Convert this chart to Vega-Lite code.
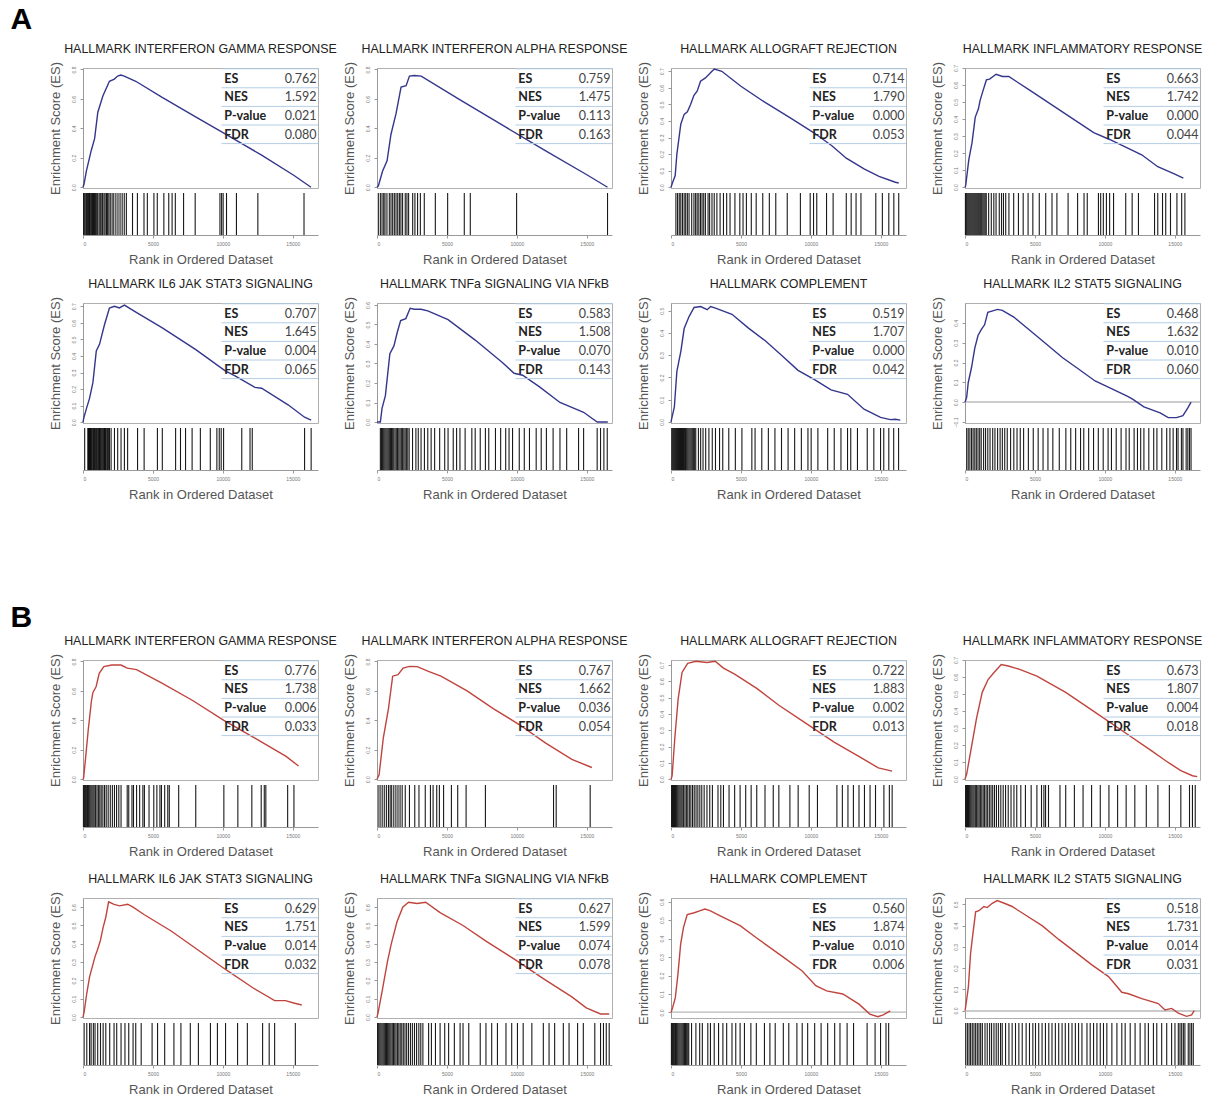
{
"$schema":"https://vega.github.io/schema/vega-lite/v6.json",
"padding":{"left":10,"top":4,"right":2,"bottom":2},
"spacing":101,
"datasets":{
"stats":[
{"p":"A1","k":"ES","v":"0.762","r":1},{"p":"A1","k":"NES","v":"1.592","r":2},{"p":"A1","k":"P-value","v":"0.021","r":3},{"p":"A1","k":"FDR","v":"0.080","r":4},
{"p":"A2","k":"ES","v":"0.759","r":1},{"p":"A2","k":"NES","v":"1.475","r":2},{"p":"A2","k":"P-value","v":"0.113","r":3},{"p":"A2","k":"FDR","v":"0.163","r":4},
{"p":"A3","k":"ES","v":"0.714","r":1},{"p":"A3","k":"NES","v":"1.790","r":2},{"p":"A3","k":"P-value","v":"0.000","r":3},{"p":"A3","k":"FDR","v":"0.053","r":4},
{"p":"A4","k":"ES","v":"0.663","r":1},{"p":"A4","k":"NES","v":"1.742","r":2},{"p":"A4","k":"P-value","v":"0.000","r":3},{"p":"A4","k":"FDR","v":"0.044","r":4},
{"p":"A5","k":"ES","v":"0.707","r":1},{"p":"A5","k":"NES","v":"1.645","r":2},{"p":"A5","k":"P-value","v":"0.004","r":3},{"p":"A5","k":"FDR","v":"0.065","r":4},
{"p":"A6","k":"ES","v":"0.583","r":1},{"p":"A6","k":"NES","v":"1.508","r":2},{"p":"A6","k":"P-value","v":"0.070","r":3},{"p":"A6","k":"FDR","v":"0.143","r":4},
{"p":"A7","k":"ES","v":"0.519","r":1},{"p":"A7","k":"NES","v":"1.707","r":2},{"p":"A7","k":"P-value","v":"0.000","r":3},{"p":"A7","k":"FDR","v":"0.042","r":4},
{"p":"A8","k":"ES","v":"0.468","r":1},{"p":"A8","k":"NES","v":"1.632","r":2},{"p":"A8","k":"P-value","v":"0.010","r":3},{"p":"A8","k":"FDR","v":"0.060","r":4},
{"p":"B1","k":"ES","v":"0.776","r":1},{"p":"B1","k":"NES","v":"1.738","r":2},{"p":"B1","k":"P-value","v":"0.006","r":3},{"p":"B1","k":"FDR","v":"0.033","r":4},
{"p":"B2","k":"ES","v":"0.767","r":1},{"p":"B2","k":"NES","v":"1.662","r":2},{"p":"B2","k":"P-value","v":"0.036","r":3},{"p":"B2","k":"FDR","v":"0.054","r":4},
{"p":"B3","k":"ES","v":"0.722","r":1},{"p":"B3","k":"NES","v":"1.883","r":2},{"p":"B3","k":"P-value","v":"0.002","r":3},{"p":"B3","k":"FDR","v":"0.013","r":4},
{"p":"B4","k":"ES","v":"0.673","r":1},{"p":"B4","k":"NES","v":"1.807","r":2},{"p":"B4","k":"P-value","v":"0.004","r":3},{"p":"B4","k":"FDR","v":"0.018","r":4},
{"p":"B5","k":"ES","v":"0.629","r":1},{"p":"B5","k":"NES","v":"1.751","r":2},{"p":"B5","k":"P-value","v":"0.014","r":3},{"p":"B5","k":"FDR","v":"0.032","r":4},
{"p":"B6","k":"ES","v":"0.627","r":1},{"p":"B6","k":"NES","v":"1.599","r":2},{"p":"B6","k":"P-value","v":"0.074","r":3},{"p":"B6","k":"FDR","v":"0.078","r":4},
{"p":"B7","k":"ES","v":"0.560","r":1},{"p":"B7","k":"NES","v":"1.874","r":2},{"p":"B7","k":"P-value","v":"0.010","r":3},{"p":"B7","k":"FDR","v":"0.006","r":4},
{"p":"B8","k":"ES","v":"0.518","r":1},{"p":"B8","k":"NES","v":"1.731","r":2},{"p":"B8","k":"P-value","v":"0.014","r":3},{"p":"B8","k":"FDR","v":"0.031","r":4}
],
"cA1":[{"x":0,"y":0},{"x":70,"y":0.02},{"x":240,"y":0.11},{"x":590,"y":0.25},{"x":830,"y":0.33},{"x":1060,"y":0.51},{"x":1420,"y":0.62},{"x":1890,"y":0.72},{"x":2240,"y":0.735},{"x":2480,"y":0.755},{"x":2700,"y":0.762},{"x":2950,"y":0.755},{"x":3770,"y":0.72},{"x":5660,"y":0.61},{"x":8020,"y":0.48},{"x":10380,"y":0.35},{"x":12740,"y":0.22},{"x":15090,"y":0.08},{"x":16300,"y":0.0}],
"cA2":[{"x":0,"y":0},{"x":100,"y":0.01},{"x":400,"y":0.11},{"x":720,"y":0.18},{"x":1000,"y":0.36},{"x":1360,"y":0.5},{"x":1720,"y":0.68},{"x":2080,"y":0.69},{"x":2320,"y":0.755},{"x":2680,"y":0.759},{"x":3160,"y":0.755},{"x":6000,"y":0.59},{"x":9000,"y":0.42},{"x":12000,"y":0.25},{"x":15000,"y":0.085},{"x":16480,"y":0.0}],
"cA3":[{"x":0,"y":0},{"x":120,"y":0.03},{"x":300,"y":0.07},{"x":420,"y":0.2},{"x":700,"y":0.38},{"x":940,"y":0.44},{"x":1170,"y":0.455},{"x":1400,"y":0.5},{"x":1640,"y":0.555},{"x":1870,"y":0.58},{"x":2110,"y":0.64},{"x":2460,"y":0.66},{"x":2930,"y":0.7},{"x":3100,"y":0.714},{"x":3630,"y":0.7},{"x":5000,"y":0.61},{"x":6670,"y":0.515},{"x":8500,"y":0.42},{"x":10190,"y":0.33},{"x":11500,"y":0.25},{"x":12530,"y":0.175},{"x":13800,"y":0.11},{"x":14870,"y":0.065},{"x":16040,"y":0.03},{"x":16280,"y":0.025}],
"cA4":[{"x":0,"y":0},{"x":50,"y":0.01},{"x":270,"y":0.16},{"x":500,"y":0.26},{"x":730,"y":0.41},{"x":960,"y":0.46},{"x":1080,"y":0.51},{"x":1300,"y":0.57},{"x":1530,"y":0.63},{"x":1760,"y":0.635},{"x":2220,"y":0.663},{"x":2680,"y":0.65},{"x":3130,"y":0.65},{"x":4620,"y":0.57},{"x":6910,"y":0.445},{"x":9200,"y":0.32},{"x":10340,"y":0.28},{"x":12630,"y":0.19},{"x":13780,"y":0.12},{"x":14920,"y":0.08},{"x":15610,"y":0.053}],
"cA5":[{"x":0,"y":0},{"x":70,"y":0.03},{"x":240,"y":0.08},{"x":470,"y":0.145},{"x":710,"y":0.24},{"x":950,"y":0.43},{"x":1180,"y":0.47},{"x":1540,"y":0.59},{"x":1890,"y":0.69},{"x":2250,"y":0.7},{"x":2600,"y":0.69},{"x":2960,"y":0.707},{"x":3780,"y":0.665},{"x":5670,"y":0.57},{"x":8040,"y":0.44},{"x":10170,"y":0.31},{"x":10870,"y":0.28},{"x":12290,"y":0.21},{"x":12770,"y":0.205},{"x":14660,"y":0.105},{"x":15840,"y":0.03},{"x":16310,"y":0.013}],
"cA6":[{"x":0,"y":0},{"x":240,"y":0.0},{"x":360,"y":0.07},{"x":600,"y":0.135},{"x":920,"y":0.35},{"x":1210,"y":0.39},{"x":1450,"y":0.46},{"x":1690,"y":0.52},{"x":2060,"y":0.53},{"x":2370,"y":0.583},{"x":2660,"y":0.578},{"x":3150,"y":0.578},{"x":3630,"y":0.57},{"x":5080,"y":0.525},{"x":7020,"y":0.42},{"x":8960,"y":0.305},{"x":9800,"y":0.25},{"x":10410,"y":0.24},{"x":11620,"y":0.18},{"x":13080,"y":0.1},{"x":14770,"y":0.05},{"x":15740,"y":0.0},{"x":16500,"y":0.0}],
"cA7":[{"x":0,"y":0},{"x":70,"y":0.02},{"x":240,"y":0.067},{"x":420,"y":0.227},{"x":710,"y":0.32},{"x":940,"y":0.42},{"x":1300,"y":0.475},{"x":1650,"y":0.515},{"x":2120,"y":0.519},{"x":2590,"y":0.505},{"x":2830,"y":0.519},{"x":3180,"y":0.512},{"x":4360,"y":0.484},{"x":5540,"y":0.422},{"x":6720,"y":0.366},{"x":7900,"y":0.3},{"x":9080,"y":0.232},{"x":10260,"y":0.19},{"x":11440,"y":0.144},{"x":12620,"y":0.124},{"x":13800,"y":0.057},{"x":14980,"y":0.02},{"x":15680,"y":0.01},{"x":16040,"y":0.012},{"x":16390,"y":0.008}],
"cA8":[{"x":0,"y":0},{"x":120,"y":0.024},{"x":230,"y":0.098},{"x":470,"y":0.176},{"x":700,"y":0.273},{"x":930,"y":0.336},{"x":1160,"y":0.366},{"x":1400,"y":0.39},{"x":1630,"y":0.453},{"x":1860,"y":0.458},{"x":2330,"y":0.468},{"x":2670,"y":0.463},{"x":3490,"y":0.429},{"x":4650,"y":0.361},{"x":5810,"y":0.293},{"x":6980,"y":0.224},{"x":8140,"y":0.166},{"x":9300,"y":0.107},{"x":10470,"y":0.068},{"x":11630,"y":0.029},{"x":11980,"y":0.015},{"x":12790,"y":-0.024},{"x":13950,"y":-0.054},{"x":14530,"y":-0.078},{"x":15120,"y":-0.078},{"x":15580,"y":-0.068},{"x":15930,"y":-0.029},{"x":16160,"y":0.0}],
"cB1":[{"x":0,"y":0},{"x":45,"y":0.01},{"x":160,"y":0.12},{"x":380,"y":0.34},{"x":600,"y":0.53},{"x":710,"y":0.59},{"x":940,"y":0.63},{"x":1160,"y":0.72},{"x":1490,"y":0.765},{"x":2050,"y":0.776},{"x":2720,"y":0.776},{"x":3160,"y":0.755},{"x":3830,"y":0.745},{"x":5610,"y":0.655},{"x":7840,"y":0.535},{"x":10070,"y":0.4},{"x":12290,"y":0.28},{"x":14520,"y":0.155},{"x":15410,"y":0.09}],
"cB2":[{"x":0,"y":0},{"x":150,"y":0.03},{"x":450,"y":0.28},{"x":820,"y":0.48},{"x":1120,"y":0.7},{"x":1500,"y":0.71},{"x":1870,"y":0.755},{"x":2320,"y":0.767},{"x":2880,"y":0.765},{"x":3630,"y":0.735},{"x":4570,"y":0.7},{"x":6440,"y":0.6},{"x":8310,"y":0.48},{"x":10190,"y":0.37},{"x":12060,"y":0.245},{"x":13930,"y":0.135},{"x":15360,"y":0.08}],
"cB3":[{"x":0,"y":0},{"x":80,"y":0.02},{"x":280,"y":0.26},{"x":510,"y":0.49},{"x":790,"y":0.654},{"x":1190,"y":0.71},{"x":1780,"y":0.722},{"x":2570,"y":0.715},{"x":3160,"y":0.722},{"x":3750,"y":0.68},{"x":4550,"y":0.644},{"x":6130,"y":0.556},{"x":7710,"y":0.453},{"x":9680,"y":0.34},{"x":11660,"y":0.227},{"x":13640,"y":0.129},{"x":14820,"y":0.069},{"x":15810,"y":0.049}],
"cB4":[{"x":0,"y":0},{"x":120,"y":0.03},{"x":410,"y":0.165},{"x":820,"y":0.355},{"x":1230,"y":0.51},{"x":1650,"y":0.585},{"x":2060,"y":0.625},{"x":2590,"y":0.673},{"x":3090,"y":0.665},{"x":3910,"y":0.645},{"x":5140,"y":0.605},{"x":7200,"y":0.51},{"x":9260,"y":0.395},{"x":11320,"y":0.28},{"x":13370,"y":0.165},{"x":14400,"y":0.105},{"x":15430,"y":0.05},{"x":16260,"y":0.02},{"x":16600,"y":0.015}],
"cB5":[{"x":0,"y":0},{"x":80,"y":0.027},{"x":270,"y":0.13},{"x":470,"y":0.22},{"x":860,"y":0.33},{"x":1050,"y":0.37},{"x":1250,"y":0.42},{"x":1440,"y":0.49},{"x":1630,"y":0.545},{"x":1830,"y":0.629},{"x":2220,"y":0.615},{"x":2610,"y":0.607},{"x":3190,"y":0.616},{"x":3580,"y":0.6},{"x":4360,"y":0.56},{"x":6300,"y":0.47},{"x":8250,"y":0.365},{"x":10190,"y":0.26},{"x":12140,"y":0.16},{"x":13700,"y":0.09},{"x":14470,"y":0.09},{"x":15060,"y":0.077},{"x":15640,"y":0.066}],
"cB6":[{"x":0,"y":0},{"x":80,"y":0.025},{"x":410,"y":0.16},{"x":740,"y":0.3},{"x":1020,"y":0.4},{"x":1430,"y":0.52},{"x":1840,"y":0.6},{"x":2250,"y":0.627},{"x":2870,"y":0.62},{"x":3480,"y":0.627},{"x":4510,"y":0.57},{"x":6150,"y":0.5},{"x":7790,"y":0.415},{"x":9840,"y":0.315},{"x":11890,"y":0.21},{"x":13930,"y":0.11},{"x":14960,"y":0.05},{"x":15980,"y":0.017},{"x":16600,"y":0.017}],
"cB7":[{"x":0,"y":0},{"x":120,"y":0.027},{"x":310,"y":0.08},{"x":500,"y":0.21},{"x":690,"y":0.37},{"x":890,"y":0.46},{"x":1160,"y":0.53},{"x":1660,"y":0.54},{"x":2050,"y":0.55},{"x":2430,"y":0.56},{"x":2820,"y":0.55},{"x":3590,"y":0.52},{"x":4940,"y":0.47},{"x":6100,"y":0.405},{"x":8030,"y":0.3},{"x":9380,"y":0.225},{"x":10350,"y":0.145},{"x":11120,"y":0.117},{"x":12280,"y":0.1},{"x":13440,"y":0.045},{"x":14210,"y":-0.009},{"x":14790,"y":-0.023},{"x":15170,"y":-0.013},{"x":15680,"y":0.009}],
"cB8":[{"x":0,"y":0},{"x":50,"y":0.018},{"x":240,"y":0.11},{"x":400,"y":0.27},{"x":570,"y":0.365},{"x":760,"y":0.465},{"x":1000,"y":0.47},{"x":1350,"y":0.49},{"x":1590,"y":0.485},{"x":1950,"y":0.505},{"x":2300,"y":0.518},{"x":2900,"y":0.503},{"x":3370,"y":0.49},{"x":4320,"y":0.45},{"x":5510,"y":0.4},{"x":6700,"y":0.335},{"x":7890,"y":0.275},{"x":9070,"y":0.215},{"x":10260,"y":0.16},{"x":11210,"y":0.086},{"x":11690,"y":0.079},{"x":12640,"y":0.056},{"x":13820,"y":0.033},{"x":14300,"y":0.003},{"x":14770,"y":0.01},{"x":15250,"y":-0.012},{"x":15840,"y":-0.027},{"x":16200,"y":-0.02},{"x":16390,"y":0.0}],
"hA1":[{"x":40},{"x":120},{"x":200},{"x":260},{"x":330},{"x":400},{"x":470},{"x":520},{"x":600},{"x":680},{"x":750},{"x":820},{"x":900},{"x":980},{"x":1050},{"x":1150},{"x":1230},{"x":1300},{"x":1400},{"x":1500},{"x":1580},{"x":1680},{"x":1760},{"x":1850},{"x":1950},{"x":2080},{"x":2200},{"x":2350},{"x":2500},{"x":2650},{"x":2800},{"x":2950},{"x":3100},{"x":3540},{"x":3890},{"x":4360},{"x":4600},{"x":5070},{"x":5310},{"x":5780},{"x":6130},{"x":6370},{"x":6600},{"x":7190},{"x":8020},{"x":9790},{"x":9910},{"x":10020},{"x":10260},{"x":10970},{"x":12500},{"x":15800}],
"hA2":[{"x":95},{"x":240},{"x":360},{"x":480},{"x":570},{"x":710},{"x":880},{"x":1000},{"x":1120},{"x":1240},{"x":1360},{"x":1480},{"x":1600},{"x":1710},{"x":1830},{"x":2020},{"x":2140},{"x":2260},{"x":2550},{"x":2710},{"x":2900},{"x":3100},{"x":3380},{"x":4170},{"x":5050},{"x":6240},{"x":6670},{"x":9980},{"x":16480}],
"hA3":[{"x":350},{"x":470},{"x":590},{"x":700},{"x":820},{"x":940},{"x":1050},{"x":1170},{"x":1290},{"x":1480},{"x":1640},{"x":1760},{"x":1870},{"x":1990},{"x":2110},{"x":2220},{"x":2340},{"x":2460},{"x":2650},{"x":2760},{"x":2930},{"x":3090},{"x":3280},{"x":3510},{"x":3750},{"x":3980},{"x":4220},{"x":4570},{"x":4920},{"x":5150},{"x":5390},{"x":5740},{"x":6090},{"x":6560},{"x":7030},{"x":7490},{"x":8310},{"x":9250},{"x":9950},{"x":10190},{"x":10420},{"x":11120},{"x":11590},{"x":12530},{"x":12880},{"x":13230},{"x":13580},{"x":14640},{"x":15110},{"x":15570},{"x":15930},{"x":16280}],
"hA4":[{"x":30},{"x":90},{"x":150},{"x":220},{"x":290},{"x":360},{"x":430},{"x":500},{"x":570},{"x":640},{"x":710},{"x":780},{"x":850},{"x":920},{"x":990},{"x":1060},{"x":1130},{"x":1200},{"x":1280},{"x":1360},{"x":1440},{"x":1520},{"x":1690},{"x":1880},{"x":2060},{"x":2220},{"x":2450},{"x":2610},{"x":2750},{"x":2910},{"x":3140},{"x":3480},{"x":3820},{"x":4160},{"x":4510},{"x":4850},{"x":5310},{"x":5770},{"x":6220},{"x":6570},{"x":7370},{"x":8050},{"x":8510},{"x":8740},{"x":9540},{"x":9700},{"x":9890},{"x":10110},{"x":10340},{"x":10620},{"x":11490},{"x":11950},{"x":12400},{"x":13550},{"x":13780},{"x":14120},{"x":14350},{"x":14690},{"x":15150},{"x":15490},{"x":15720}],
"hA5":[{"x":120},{"x":350},{"x":380},{"x":420},{"x":470},{"x":520},{"x":560},{"x":590},{"x":650},{"x":710},{"x":760},{"x":830},{"x":880},{"x":950},{"x":1000},{"x":1060},{"x":1120},{"x":1180},{"x":1240},{"x":1300},{"x":1360},{"x":1420},{"x":1480},{"x":1540},{"x":1600},{"x":1650},{"x":1720},{"x":1770},{"x":1840},{"x":1890},{"x":2010},{"x":2250},{"x":2480},{"x":2720},{"x":2960},{"x":3190},{"x":3900},{"x":4370},{"x":5320},{"x":5670},{"x":6620},{"x":6970},{"x":7330},{"x":7800},{"x":8390},{"x":9100},{"x":9570},{"x":9740},{"x":9880},{"x":10050},{"x":11350},{"x":11940},{"x":12100},{"x":15840},{"x":16310}],
"hA6":[{"x":240},{"x":320},{"x":400},{"x":480},{"x":560},{"x":640},{"x":720},{"x":800},{"x":880},{"x":960},{"x":1040},{"x":1120},{"x":1200},{"x":1290},{"x":1380},{"x":1470},{"x":1560},{"x":1650},{"x":1740},{"x":1830},{"x":1920},{"x":2010},{"x":2100},{"x":2200},{"x":2300},{"x":2540},{"x":2780},{"x":2950},{"x":3150},{"x":3390},{"x":3630},{"x":3870},{"x":4120},{"x":4480},{"x":4840},{"x":5080},{"x":5450},{"x":5690},{"x":5930},{"x":6300},{"x":6780},{"x":7020},{"x":7380},{"x":7750},{"x":7990},{"x":8470},{"x":8840},{"x":9200},{"x":9440},{"x":9690},{"x":10170},{"x":10530},{"x":10900},{"x":11380},{"x":11740},{"x":12110},{"x":12590},{"x":13080},{"x":13560},{"x":14410},{"x":14770},{"x":15740},{"x":15980},{"x":16220},{"x":16460}],
"hA7":[{"x":50},{"x":120},{"x":190},{"x":260},{"x":330},{"x":400},{"x":470},{"x":540},{"x":610},{"x":680},{"x":750},{"x":820},{"x":890},{"x":960},{"x":1040},{"x":1120},{"x":1200},{"x":1280},{"x":1360},{"x":1440},{"x":1520},{"x":1600},{"x":1690},{"x":1770},{"x":1960},{"x":2120},{"x":2290},{"x":2480},{"x":2710},{"x":2950},{"x":3180},{"x":3470},{"x":3700},{"x":4130},{"x":4600},{"x":5070},{"x":5780},{"x":6010},{"x":6490},{"x":6960},{"x":7430},{"x":7900},{"x":8370},{"x":8840},{"x":9320},{"x":9790},{"x":10020},{"x":10500},{"x":11200},{"x":11670},{"x":12150},{"x":12620},{"x":12850},{"x":13330},{"x":14030},{"x":14500},{"x":14980},{"x":15210},{"x":15570},{"x":15920},{"x":16270}],
"hA8":[{"x":120},{"x":230},{"x":350},{"x":470},{"x":580},{"x":700},{"x":810},{"x":930},{"x":1050},{"x":1160},{"x":1330},{"x":1470},{"x":1630},{"x":1790},{"x":1980},{"x":2140},{"x":2330},{"x":2510},{"x":2670},{"x":2840},{"x":3020},{"x":3260},{"x":3490},{"x":3720},{"x":3950},{"x":4190},{"x":4530},{"x":4880},{"x":5230},{"x":5580},{"x":5930},{"x":6280},{"x":6740},{"x":7210},{"x":7560},{"x":7910},{"x":8260},{"x":8490},{"x":8840},{"x":9190},{"x":9530},{"x":9880},{"x":10230},{"x":10470},{"x":10810},{"x":11160},{"x":11510},{"x":11740},{"x":12090},{"x":12330},{"x":12560},{"x":12790},{"x":13140},{"x":13490},{"x":13720},{"x":14070},{"x":14420},{"x":14650},{"x":14880},{"x":15120},{"x":15230},{"x":15470},{"x":15580},{"x":15810},{"x":15930},{"x":16050},{"x":16160}],
"hB1":[{"x":30},{"x":100},{"x":170},{"x":240},{"x":320},{"x":400},{"x":480},{"x":560},{"x":640},{"x":720},{"x":800},{"x":900},{"x":1000},{"x":1100},{"x":1200},{"x":1300},{"x":1420},{"x":1540},{"x":1660},{"x":1800},{"x":1950},{"x":2100},{"x":2250},{"x":2400},{"x":2560},{"x":2720},{"x":3160},{"x":3270},{"x":3500},{"x":3610},{"x":3830},{"x":4050},{"x":4280},{"x":4390},{"x":4720},{"x":5060},{"x":5280},{"x":5500},{"x":5610},{"x":5840},{"x":6060},{"x":6170},{"x":6840},{"x":8060},{"x":10070},{"x":11070},{"x":12070},{"x":12740},{"x":12960},{"x":13070},{"x":14630},{"x":15080}],
"hB2":[{"x":75},{"x":220},{"x":370},{"x":520},{"x":670},{"x":820},{"x":940},{"x":1050},{"x":1200},{"x":1350},{"x":1500},{"x":1650},{"x":1800},{"x":2020},{"x":2320},{"x":2700},{"x":3000},{"x":3450},{"x":3820},{"x":4010},{"x":4270},{"x":4460},{"x":4760},{"x":5320},{"x":5770},{"x":6370},{"x":7750},{"x":12620},{"x":12810},{"x":15240}],
"hB3":[{"x":40},{"x":110},{"x":180},{"x":250},{"x":320},{"x":400},{"x":480},{"x":560},{"x":640},{"x":720},{"x":800},{"x":900},{"x":1000},{"x":1100},{"x":1200},{"x":1310},{"x":1420},{"x":1540},{"x":1660},{"x":1790},{"x":1920},{"x":2060},{"x":2200},{"x":2370},{"x":2570},{"x":2770},{"x":2960},{"x":3360},{"x":3560},{"x":3750},{"x":4150},{"x":4550},{"x":4940},{"x":5340},{"x":5730},{"x":6130},{"x":6720},{"x":7310},{"x":7710},{"x":8500},{"x":9090},{"x":9880},{"x":10470},{"x":11860},{"x":12250},{"x":12650},{"x":13040},{"x":13440},{"x":13830},{"x":14230},{"x":14620},{"x":15220},{"x":15610},{"x":15810}],
"hB4":[{"x":40},{"x":110},{"x":180},{"x":250},{"x":330},{"x":410},{"x":490},{"x":570},{"x":650},{"x":740},{"x":830},{"x":920},{"x":1010},{"x":1100},{"x":1200},{"x":1300},{"x":1400},{"x":1510},{"x":1620},{"x":1740},{"x":1860},{"x":1980},{"x":2110},{"x":2250},{"x":2400},{"x":2560},{"x":2730},{"x":2900},{"x":3090},{"x":3290},{"x":3500},{"x":3700},{"x":3990},{"x":4320},{"x":4730},{"x":5140},{"x":5470},{"x":5640},{"x":5760},{"x":5970},{"x":6790},{"x":7200},{"x":7820},{"x":8440},{"x":9050},{"x":9670},{"x":10290},{"x":10910},{"x":11520},{"x":12140},{"x":12960},{"x":13790},{"x":14610},{"x":15430},{"x":16050},{"x":16260},{"x":16460}],
"hB5":[{"x":80},{"x":270},{"x":470},{"x":580},{"x":740},{"x":860},{"x":1050},{"x":1250},{"x":1440},{"x":1630},{"x":1910},{"x":2220},{"x":2410},{"x":2720},{"x":3000},{"x":3270},{"x":3580},{"x":3770},{"x":4160},{"x":4940},{"x":5330},{"x":5840},{"x":6500},{"x":7000},{"x":7670},{"x":8250},{"x":9110},{"x":9610},{"x":10190},{"x":11050},{"x":11750},{"x":12840},{"x":13310},{"x":13700},{"x":15180}],
"hB6":[{"x":40},{"x":120},{"x":200},{"x":280},{"x":360},{"x":440},{"x":520},{"x":600},{"x":680},{"x":760},{"x":840},{"x":920},{"x":1000},{"x":1090},{"x":1180},{"x":1270},{"x":1360},{"x":1460},{"x":1560},{"x":1660},{"x":1770},{"x":1880},{"x":2000},{"x":2120},{"x":2250},{"x":2390},{"x":2530},{"x":2680},{"x":2830},{"x":2990},{"x":3130},{"x":3280},{"x":3690},{"x":3890},{"x":4180},{"x":4510},{"x":4840},{"x":5120},{"x":5530},{"x":5940},{"x":6150},{"x":6560},{"x":7380},{"x":7790},{"x":8200},{"x":8610},{"x":9220},{"x":9630},{"x":10040},{"x":10450},{"x":11070},{"x":11890},{"x":12300},{"x":12700},{"x":13320},{"x":13730},{"x":14340},{"x":14750},{"x":15570},{"x":15980},{"x":16190},{"x":16390},{"x":16600}],
"hB7":[{"x":30},{"x":100},{"x":170},{"x":240},{"x":320},{"x":400},{"x":480},{"x":560},{"x":640},{"x":720},{"x":800},{"x":880},{"x":960},{"x":1040},{"x":1120},{"x":1200},{"x":1270},{"x":1470},{"x":1780},{"x":2050},{"x":2240},{"x":2630},{"x":2820},{"x":3090},{"x":3400},{"x":3710},{"x":3980},{"x":4360},{"x":4630},{"x":4940},{"x":5250},{"x":5710},{"x":6100},{"x":6680},{"x":7070},{"x":7450},{"x":8030},{"x":8420},{"x":9000},{"x":9380},{"x":9770},{"x":10270},{"x":10730},{"x":11200},{"x":11700},{"x":12080},{"x":12590},{"x":13050},{"x":14020},{"x":14590},{"x":14980},{"x":15370},{"x":15560}],
"hB8":[{"x":50},{"x":170},{"x":290},{"x":400},{"x":520},{"x":640},{"x":760},{"x":880},{"x":1000},{"x":1120},{"x":1240},{"x":1430},{"x":1590},{"x":1760},{"x":1900},{"x":2070},{"x":2230},{"x":2380},{"x":2540},{"x":2660},{"x":2900},{"x":3140},{"x":3370},{"x":3610},{"x":3850},{"x":4090},{"x":4370},{"x":4610},{"x":4850},{"x":5040},{"x":5270},{"x":5510},{"x":5750},{"x":5990},{"x":6220},{"x":6460},{"x":6700},{"x":6940},{"x":7170},{"x":7410},{"x":7650},{"x":7890},{"x":8120},{"x":8360},{"x":8720},{"x":8950},{"x":9190},{"x":9430},{"x":9670},{"x":9900},{"x":10140},{"x":10500},{"x":10860},{"x":11210},{"x":11450},{"x":11810},{"x":12160},{"x":12520},{"x":12870},{"x":13110},{"x":13470},{"x":13710},{"x":14060},{"x":14420},{"x":14770},{"x":15010},{"x":15250},{"x":15370},{"x":15490},{"x":15610},{"x":15720},{"x":15960},{"x":16080},{"x":16200},{"x":16320}]
},
"vconcat":[
{"title":{"text":"A","anchor":"start","fontSize":30,"fontWeight":"bold","color":"#000","dx":-38,"offset":8},
 "columns":4,"align":"all","spacing":{"row":11,"column":4},
 "concat":[
  {"spacing":5,"bounds":"flush","vconcat":[
   {"width":235,"height":120,"title":{"text":"HALLMARK INTERFERON GAMMA RESPONSE"},
    "layer":[
     {"data":{"name":"cA1"},"mark":{"type":"line","color":"#34368c","strokeWidth":1.4},"encoding":{"x":{"field":"x","type":"quantitative","scale":{"domain":[0,16800],"nice":false},"axis":null},"y":{"field":"y","type":"quantitative","scale":{"domain":[-0.005,0.81],"nice":false,"zero":false},"axis":{"values":[0,0.2,0.4,0.6,0.8],"format":".1f","title":"Enrichment Score (ES)"}}}},
     {"data":{"name":"stats"},"transform":[{"filter":"datum.p=='A1'"}],"encoding":{"y":{"field":"r","type":"quantitative","scale":{"domain":[0.42,6.87],"reverse":true},"axis":null}},
      "layer":[
       {"mark":{"type":"rule","color":"#b3cde6","yOffset":9},"encoding":{"x":{"datum":9900,"axis":null},"x2":{"datum":16800}}},
       {"transform":[{"filter":"datum.r==1"}],"mark":{"type":"rule","color":"#b3cde6","yOffset":-10},"encoding":{"x":{"datum":9900,"axis":null},"x2":{"datum":16800}}},
       {"mark":{"type":"text","align":"left","fontWeight":"bold","font":"Lato","fontSize":12.5,"color":"#222"},"encoding":{"x":{"datum":10100,"axis":null},"text":{"field":"k"}}},
       {"mark":{"type":"text","align":"right","font":"Lato","fontSize":12.5,"color":"#444"},"encoding":{"x":{"datum":16700,"axis":null},"text":{"field":"v"}}}
      ]}
    ],
    "resolve":{"scale":{"y":"independent"}}},
   {"width":235,"height":42,"view":{"stroke":null},"data":{"name":"hA1"},"mark":{"type":"rule","color":"#000","opacity":0.9,"strokeWidth":1.1},"encoding":{"x":{"field":"x","type":"quantitative","scale":{"domain":[0,16800],"nice":false},"axis":{"values":[0,5000,10000,15000],"format":"d","title":"Rank in Ordered Dataset"}}}}
  ]},
  {"spacing":5,"bounds":"flush","vconcat":[
   {"width":235,"height":120,"title":{"text":"HALLMARK INTERFERON ALPHA RESPONSE"},
    "layer":[
     {"data":{"name":"cA2"},"mark":{"type":"line","color":"#34368c","strokeWidth":1.4},"encoding":{"x":{"field":"x","type":"quantitative","scale":{"domain":[0,16800],"nice":false},"axis":null},"y":{"field":"y","type":"quantitative","scale":{"domain":[-0.005,0.81],"nice":false,"zero":false},"axis":{"values":[0,0.2,0.4,0.6,0.8],"format":".1f","title":"Enrichment Score (ES)"}}}},
     {"data":{"name":"stats"},"transform":[{"filter":"datum.p=='A2'"}],"encoding":{"y":{"field":"r","type":"quantitative","scale":{"domain":[0.42,6.87],"reverse":true},"axis":null}},
      "layer":[
       {"mark":{"type":"rule","color":"#b3cde6","yOffset":9},"encoding":{"x":{"datum":9900,"axis":null},"x2":{"datum":16800}}},
       {"transform":[{"filter":"datum.r==1"}],"mark":{"type":"rule","color":"#b3cde6","yOffset":-10},"encoding":{"x":{"datum":9900,"axis":null},"x2":{"datum":16800}}},
       {"mark":{"type":"text","align":"left","fontWeight":"bold","font":"Lato","fontSize":12.5,"color":"#222"},"encoding":{"x":{"datum":10100,"axis":null},"text":{"field":"k"}}},
       {"mark":{"type":"text","align":"right","font":"Lato","fontSize":12.5,"color":"#444"},"encoding":{"x":{"datum":16700,"axis":null},"text":{"field":"v"}}}
      ]}
    ],
    "resolve":{"scale":{"y":"independent"}}},
   {"width":235,"height":42,"view":{"stroke":null},"data":{"name":"hA2"},"mark":{"type":"rule","color":"#000","opacity":0.9,"strokeWidth":1.1},"encoding":{"x":{"field":"x","type":"quantitative","scale":{"domain":[0,16800],"nice":false},"axis":{"values":[0,5000,10000,15000],"format":"d","title":"Rank in Ordered Dataset"}}}}
  ]},
  {"spacing":5,"bounds":"flush","vconcat":[
   {"width":235,"height":120,"title":{"text":"HALLMARK ALLOGRAFT REJECTION"},
    "layer":[
     {"data":{"name":"cA3"},"mark":{"type":"line","color":"#34368c","strokeWidth":1.4},"encoding":{"x":{"field":"x","type":"quantitative","scale":{"domain":[0,16800],"nice":false},"axis":null},"y":{"field":"y","type":"quantitative","scale":{"domain":[-0.005,0.72],"nice":false,"zero":false},"axis":{"values":[0,0.1,0.2,0.3,0.4,0.5,0.6,0.7],"format":".1f","title":"Enrichment Score (ES)"}}}},
     {"data":{"name":"stats"},"transform":[{"filter":"datum.p=='A3'"}],"encoding":{"y":{"field":"r","type":"quantitative","scale":{"domain":[0.42,6.87],"reverse":true},"axis":null}},
      "layer":[
       {"mark":{"type":"rule","color":"#b3cde6","yOffset":9},"encoding":{"x":{"datum":9900,"axis":null},"x2":{"datum":16800}}},
       {"transform":[{"filter":"datum.r==1"}],"mark":{"type":"rule","color":"#b3cde6","yOffset":-10},"encoding":{"x":{"datum":9900,"axis":null},"x2":{"datum":16800}}},
       {"mark":{"type":"text","align":"left","fontWeight":"bold","font":"Lato","fontSize":12.5,"color":"#222"},"encoding":{"x":{"datum":10100,"axis":null},"text":{"field":"k"}}},
       {"mark":{"type":"text","align":"right","font":"Lato","fontSize":12.5,"color":"#444"},"encoding":{"x":{"datum":16700,"axis":null},"text":{"field":"v"}}}
      ]}
    ],
    "resolve":{"scale":{"y":"independent"}}},
   {"width":235,"height":42,"view":{"stroke":null},"data":{"name":"hA3"},"mark":{"type":"rule","color":"#000","opacity":0.9,"strokeWidth":1.1},"encoding":{"x":{"field":"x","type":"quantitative","scale":{"domain":[0,16800],"nice":false},"axis":{"values":[0,5000,10000,15000],"format":"d","title":"Rank in Ordered Dataset"}}}}
  ]},
  {"spacing":5,"bounds":"flush","vconcat":[
   {"width":235,"height":120,"title":{"text":"HALLMARK INFLAMMATORY RESPONSE"},
    "layer":[
     {"data":{"name":"cA4"},"mark":{"type":"line","color":"#34368c","strokeWidth":1.4},"encoding":{"x":{"field":"x","type":"quantitative","scale":{"domain":[0,16800],"nice":false},"axis":null},"y":{"field":"y","type":"quantitative","scale":{"domain":[-0.005,0.7],"nice":false,"zero":false},"axis":{"values":[0,0.1,0.2,0.3,0.4,0.5,0.6,0.7],"format":".1f","title":"Enrichment Score (ES)"}}}},
     {"data":{"name":"stats"},"transform":[{"filter":"datum.p=='A4'"}],"encoding":{"y":{"field":"r","type":"quantitative","scale":{"domain":[0.42,6.87],"reverse":true},"axis":null}},
      "layer":[
       {"mark":{"type":"rule","color":"#b3cde6","yOffset":9},"encoding":{"x":{"datum":9900,"axis":null},"x2":{"datum":16800}}},
       {"transform":[{"filter":"datum.r==1"}],"mark":{"type":"rule","color":"#b3cde6","yOffset":-10},"encoding":{"x":{"datum":9900,"axis":null},"x2":{"datum":16800}}},
       {"mark":{"type":"text","align":"left","fontWeight":"bold","font":"Lato","fontSize":12.5,"color":"#222"},"encoding":{"x":{"datum":10100,"axis":null},"text":{"field":"k"}}},
       {"mark":{"type":"text","align":"right","font":"Lato","fontSize":12.5,"color":"#444"},"encoding":{"x":{"datum":16700,"axis":null},"text":{"field":"v"}}}
      ]}
    ],
    "resolve":{"scale":{"y":"independent"}}},
   {"width":235,"height":42,"view":{"stroke":null},"data":{"name":"hA4"},"mark":{"type":"rule","color":"#000","opacity":0.9,"strokeWidth":1.1},"encoding":{"x":{"field":"x","type":"quantitative","scale":{"domain":[0,16800],"nice":false},"axis":{"values":[0,5000,10000,15000],"format":"d","title":"Rank in Ordered Dataset"}}}}
  ]},
  {"spacing":5,"bounds":"flush","vconcat":[
   {"width":235,"height":120,"title":{"text":"HALLMARK IL6 JAK STAT3 SIGNALING"},
    "layer":[
     {"data":{"name":"cA5"},"mark":{"type":"line","color":"#34368c","strokeWidth":1.4},"encoding":{"x":{"field":"x","type":"quantitative","scale":{"domain":[0,16800],"nice":false},"axis":null},"y":{"field":"y","type":"quantitative","scale":{"domain":[-0.005,0.72],"nice":false,"zero":false},"axis":{"values":[0,0.1,0.2,0.3,0.4,0.5,0.6,0.7],"format":".1f","title":"Enrichment Score (ES)"}}}},
     {"data":{"name":"stats"},"transform":[{"filter":"datum.p=='A5'"}],"encoding":{"y":{"field":"r","type":"quantitative","scale":{"domain":[0.42,6.87],"reverse":true},"axis":null}},
      "layer":[
       {"mark":{"type":"rule","color":"#b3cde6","yOffset":9},"encoding":{"x":{"datum":9900,"axis":null},"x2":{"datum":16800}}},
       {"transform":[{"filter":"datum.r==1"}],"mark":{"type":"rule","color":"#b3cde6","yOffset":-10},"encoding":{"x":{"datum":9900,"axis":null},"x2":{"datum":16800}}},
       {"mark":{"type":"text","align":"left","fontWeight":"bold","font":"Lato","fontSize":12.5,"color":"#222"},"encoding":{"x":{"datum":10100,"axis":null},"text":{"field":"k"}}},
       {"mark":{"type":"text","align":"right","font":"Lato","fontSize":12.5,"color":"#444"},"encoding":{"x":{"datum":16700,"axis":null},"text":{"field":"v"}}}
      ]}
    ],
    "resolve":{"scale":{"y":"independent"}}},
   {"width":235,"height":42,"view":{"stroke":null},"data":{"name":"hA5"},"mark":{"type":"rule","color":"#000","opacity":0.9,"strokeWidth":1.1},"encoding":{"x":{"field":"x","type":"quantitative","scale":{"domain":[0,16800],"nice":false},"axis":{"values":[0,5000,10000,15000],"format":"d","title":"Rank in Ordered Dataset"}}}}
  ]},
  {"spacing":5,"bounds":"flush","vconcat":[
   {"width":235,"height":120,"title":{"text":"HALLMARK TNFa SIGNALING VIA NFkB"},
    "layer":[
     {"data":{"name":"cA6"},"mark":{"type":"line","color":"#34368c","strokeWidth":1.4},"encoding":{"x":{"field":"x","type":"quantitative","scale":{"domain":[0,16800],"nice":false},"axis":null},"y":{"field":"y","type":"quantitative","scale":{"domain":[-0.005,0.61],"nice":false,"zero":false},"axis":{"values":[0,0.1,0.2,0.3,0.4,0.5,0.6],"format":".1f","title":"Enrichment Score (ES)"}}}},
     {"data":{"name":"stats"},"transform":[{"filter":"datum.p=='A6'"}],"encoding":{"y":{"field":"r","type":"quantitative","scale":{"domain":[0.42,6.87],"reverse":true},"axis":null}},
      "layer":[
       {"mark":{"type":"rule","color":"#b3cde6","yOffset":9},"encoding":{"x":{"datum":9900,"axis":null},"x2":{"datum":16800}}},
       {"transform":[{"filter":"datum.r==1"}],"mark":{"type":"rule","color":"#b3cde6","yOffset":-10},"encoding":{"x":{"datum":9900,"axis":null},"x2":{"datum":16800}}},
       {"mark":{"type":"text","align":"left","fontWeight":"bold","font":"Lato","fontSize":12.5,"color":"#222"},"encoding":{"x":{"datum":10100,"axis":null},"text":{"field":"k"}}},
       {"mark":{"type":"text","align":"right","font":"Lato","fontSize":12.5,"color":"#444"},"encoding":{"x":{"datum":16700,"axis":null},"text":{"field":"v"}}}
      ]}
    ],
    "resolve":{"scale":{"y":"independent"}}},
   {"width":235,"height":42,"view":{"stroke":null},"data":{"name":"hA6"},"mark":{"type":"rule","color":"#000","opacity":0.9,"strokeWidth":1.1},"encoding":{"x":{"field":"x","type":"quantitative","scale":{"domain":[0,16800],"nice":false},"axis":{"values":[0,5000,10000,15000],"format":"d","title":"Rank in Ordered Dataset"}}}}
  ]},
  {"spacing":5,"bounds":"flush","vconcat":[
   {"width":235,"height":120,"title":{"text":"HALLMARK COMPLEMENT"},
    "layer":[
     {"data":{"name":"cA7"},"mark":{"type":"line","color":"#34368c","strokeWidth":1.4},"encoding":{"x":{"field":"x","type":"quantitative","scale":{"domain":[0,16800],"nice":false},"axis":null},"y":{"field":"y","type":"quantitative","scale":{"domain":[-0.005,0.535],"nice":false,"zero":false},"axis":{"values":[0,0.1,0.2,0.3,0.4,0.5],"format":".1f","title":"Enrichment Score (ES)"}}}},
     {"data":{"name":"stats"},"transform":[{"filter":"datum.p=='A7'"}],"encoding":{"y":{"field":"r","type":"quantitative","scale":{"domain":[0.42,6.87],"reverse":true},"axis":null}},
      "layer":[
       {"mark":{"type":"rule","color":"#b3cde6","yOffset":9},"encoding":{"x":{"datum":9900,"axis":null},"x2":{"datum":16800}}},
       {"transform":[{"filter":"datum.r==1"}],"mark":{"type":"rule","color":"#b3cde6","yOffset":-10},"encoding":{"x":{"datum":9900,"axis":null},"x2":{"datum":16800}}},
       {"mark":{"type":"text","align":"left","fontWeight":"bold","font":"Lato","fontSize":12.5,"color":"#222"},"encoding":{"x":{"datum":10100,"axis":null},"text":{"field":"k"}}},
       {"mark":{"type":"text","align":"right","font":"Lato","fontSize":12.5,"color":"#444"},"encoding":{"x":{"datum":16700,"axis":null},"text":{"field":"v"}}}
      ]}
    ],
    "resolve":{"scale":{"y":"independent"}}},
   {"width":235,"height":42,"view":{"stroke":null},"data":{"name":"hA7"},"mark":{"type":"rule","color":"#000","opacity":0.9,"strokeWidth":1.1},"encoding":{"x":{"field":"x","type":"quantitative","scale":{"domain":[0,16800],"nice":false},"axis":{"values":[0,5000,10000,15000],"format":"d","title":"Rank in Ordered Dataset"}}}}
  ]},
  {"spacing":5,"bounds":"flush","vconcat":[
   {"width":235,"height":120,"title":{"text":"HALLMARK IL2 STAT5 SIGNALING"},
    "layer":[
     {"layer":[
      {"data":{"name":"cA8"},"mark":{"type":"rule","color":"#cccccc","strokeWidth":0.8},"encoding":{"y":{"datum":0,"type":"quantitative","scale":{"domain":[-0.105,0.5],"nice":false,"zero":false},"axis":{"values":[-0.1,0,0.1,0.2,0.3,0.4],"format":".1f","title":"Enrichment Score (ES)"}}}},
      {"data":{"name":"cA8"},"mark":{"type":"line","color":"#34368c","strokeWidth":1.4},"encoding":{"x":{"field":"x","type":"quantitative","scale":{"domain":[0,16800],"nice":false},"axis":null},"y":{"field":"y","type":"quantitative","scale":{"domain":[-0.105,0.5],"nice":false,"zero":false},"axis":{"values":[-0.1,0,0.1,0.2,0.3,0.4],"format":".1f","title":"Enrichment Score (ES)"}}}}
     ]},
     {"data":{"name":"stats"},"transform":[{"filter":"datum.p=='A8'"}],"encoding":{"y":{"field":"r","type":"quantitative","scale":{"domain":[0.42,6.87],"reverse":true},"axis":null}},
      "layer":[
       {"mark":{"type":"rule","color":"#b3cde6","yOffset":9},"encoding":{"x":{"datum":9900,"axis":null},"x2":{"datum":16800}}},
       {"transform":[{"filter":"datum.r==1"}],"mark":{"type":"rule","color":"#b3cde6","yOffset":-10},"encoding":{"x":{"datum":9900,"axis":null},"x2":{"datum":16800}}},
       {"mark":{"type":"text","align":"left","fontWeight":"bold","font":"Lato","fontSize":12.5,"color":"#222"},"encoding":{"x":{"datum":10100,"axis":null},"text":{"field":"k"}}},
       {"mark":{"type":"text","align":"right","font":"Lato","fontSize":12.5,"color":"#444"},"encoding":{"x":{"datum":16700,"axis":null},"text":{"field":"v"}}}
      ]}
    ],
    "resolve":{"scale":{"y":"independent"}}},
   {"width":235,"height":42,"view":{"stroke":null},"data":{"name":"hA8"},"mark":{"type":"rule","color":"#000","opacity":0.9,"strokeWidth":1.1},"encoding":{"x":{"field":"x","type":"quantitative","scale":{"domain":[0,16800],"nice":false},"axis":{"values":[0,5000,10000,15000],"format":"d","title":"Rank in Ordered Dataset"}}}}
  ]}
 ]},
{"title":{"text":"B","anchor":"start","fontSize":30,"fontWeight":"bold","color":"#000","dx":-38,"offset":2},
 "columns":4,"align":"all","spacing":{"row":14,"column":4},
 "concat":[
  {"spacing":5,"bounds":"flush","vconcat":[
   {"width":235,"height":120,"title":{"text":"HALLMARK INTERFERON GAMMA RESPONSE"},
    "layer":[
     {"data":{"name":"cB1"},"mark":{"type":"line","color":"#c0443e","strokeWidth":1.4},"encoding":{"x":{"field":"x","type":"quantitative","scale":{"domain":[0,16800],"nice":false},"axis":null},"y":{"field":"y","type":"quantitative","scale":{"domain":[-0.005,0.81],"nice":false,"zero":false},"axis":{"values":[0,0.2,0.4,0.6,0.8],"format":".1f","title":"Enrichment Score (ES)"}}}},
     {"data":{"name":"stats"},"transform":[{"filter":"datum.p=='B1'"}],"encoding":{"y":{"field":"r","type":"quantitative","scale":{"domain":[0.42,6.87],"reverse":true},"axis":null}},
      "layer":[
       {"mark":{"type":"rule","color":"#b3cde6","yOffset":9},"encoding":{"x":{"datum":9900,"axis":null},"x2":{"datum":16800}}},
       {"transform":[{"filter":"datum.r==1"}],"mark":{"type":"rule","color":"#b3cde6","yOffset":-10},"encoding":{"x":{"datum":9900,"axis":null},"x2":{"datum":16800}}},
       {"mark":{"type":"text","align":"left","fontWeight":"bold","font":"Lato","fontSize":12.5,"color":"#222"},"encoding":{"x":{"datum":10100,"axis":null},"text":{"field":"k"}}},
       {"mark":{"type":"text","align":"right","font":"Lato","fontSize":12.5,"color":"#444"},"encoding":{"x":{"datum":16700,"axis":null},"text":{"field":"v"}}}
      ]}
    ],
    "resolve":{"scale":{"y":"independent"}}},
   {"width":235,"height":42,"view":{"stroke":null},"data":{"name":"hB1"},"mark":{"type":"rule","color":"#000","opacity":0.9,"strokeWidth":1.1},"encoding":{"x":{"field":"x","type":"quantitative","scale":{"domain":[0,16800],"nice":false},"axis":{"values":[0,5000,10000,15000],"format":"d","title":"Rank in Ordered Dataset"}}}}
  ]},
  {"spacing":5,"bounds":"flush","vconcat":[
   {"width":235,"height":120,"title":{"text":"HALLMARK INTERFERON ALPHA RESPONSE"},
    "layer":[
     {"data":{"name":"cB2"},"mark":{"type":"line","color":"#c0443e","strokeWidth":1.4},"encoding":{"x":{"field":"x","type":"quantitative","scale":{"domain":[0,16800],"nice":false},"axis":null},"y":{"field":"y","type":"quantitative","scale":{"domain":[-0.005,0.81],"nice":false,"zero":false},"axis":{"values":[0,0.2,0.4,0.6,0.8],"format":".1f","title":"Enrichment Score (ES)"}}}},
     {"data":{"name":"stats"},"transform":[{"filter":"datum.p=='B2'"}],"encoding":{"y":{"field":"r","type":"quantitative","scale":{"domain":[0.42,6.87],"reverse":true},"axis":null}},
      "layer":[
       {"mark":{"type":"rule","color":"#b3cde6","yOffset":9},"encoding":{"x":{"datum":9900,"axis":null},"x2":{"datum":16800}}},
       {"transform":[{"filter":"datum.r==1"}],"mark":{"type":"rule","color":"#b3cde6","yOffset":-10},"encoding":{"x":{"datum":9900,"axis":null},"x2":{"datum":16800}}},
       {"mark":{"type":"text","align":"left","fontWeight":"bold","font":"Lato","fontSize":12.5,"color":"#222"},"encoding":{"x":{"datum":10100,"axis":null},"text":{"field":"k"}}},
       {"mark":{"type":"text","align":"right","font":"Lato","fontSize":12.5,"color":"#444"},"encoding":{"x":{"datum":16700,"axis":null},"text":{"field":"v"}}}
      ]}
    ],
    "resolve":{"scale":{"y":"independent"}}},
   {"width":235,"height":42,"view":{"stroke":null},"data":{"name":"hB2"},"mark":{"type":"rule","color":"#000","opacity":0.9,"strokeWidth":1.1},"encoding":{"x":{"field":"x","type":"quantitative","scale":{"domain":[0,16800],"nice":false},"axis":{"values":[0,5000,10000,15000],"format":"d","title":"Rank in Ordered Dataset"}}}}
  ]},
  {"spacing":5,"bounds":"flush","vconcat":[
   {"width":235,"height":120,"title":{"text":"HALLMARK ALLOGRAFT REJECTION"},
    "layer":[
     {"data":{"name":"cB3"},"mark":{"type":"line","color":"#c0443e","strokeWidth":1.4},"encoding":{"x":{"field":"x","type":"quantitative","scale":{"domain":[0,16800],"nice":false},"axis":null},"y":{"field":"y","type":"quantitative","scale":{"domain":[-0.005,0.73],"nice":false,"zero":false},"axis":{"values":[0,0.1,0.2,0.3,0.4,0.5,0.6,0.7],"format":".1f","title":"Enrichment Score (ES)"}}}},
     {"data":{"name":"stats"},"transform":[{"filter":"datum.p=='B3'"}],"encoding":{"y":{"field":"r","type":"quantitative","scale":{"domain":[0.42,6.87],"reverse":true},"axis":null}},
      "layer":[
       {"mark":{"type":"rule","color":"#b3cde6","yOffset":9},"encoding":{"x":{"datum":9900,"axis":null},"x2":{"datum":16800}}},
       {"transform":[{"filter":"datum.r==1"}],"mark":{"type":"rule","color":"#b3cde6","yOffset":-10},"encoding":{"x":{"datum":9900,"axis":null},"x2":{"datum":16800}}},
       {"mark":{"type":"text","align":"left","fontWeight":"bold","font":"Lato","fontSize":12.5,"color":"#222"},"encoding":{"x":{"datum":10100,"axis":null},"text":{"field":"k"}}},
       {"mark":{"type":"text","align":"right","font":"Lato","fontSize":12.5,"color":"#444"},"encoding":{"x":{"datum":16700,"axis":null},"text":{"field":"v"}}}
      ]}
    ],
    "resolve":{"scale":{"y":"independent"}}},
   {"width":235,"height":42,"view":{"stroke":null},"data":{"name":"hB3"},"mark":{"type":"rule","color":"#000","opacity":0.9,"strokeWidth":1.1},"encoding":{"x":{"field":"x","type":"quantitative","scale":{"domain":[0,16800],"nice":false},"axis":{"values":[0,5000,10000,15000],"format":"d","title":"Rank in Ordered Dataset"}}}}
  ]},
  {"spacing":5,"bounds":"flush","vconcat":[
   {"width":235,"height":120,"title":{"text":"HALLMARK INFLAMMATORY RESPONSE"},
    "layer":[
     {"data":{"name":"cB4"},"mark":{"type":"line","color":"#c0443e","strokeWidth":1.4},"encoding":{"x":{"field":"x","type":"quantitative","scale":{"domain":[0,16800],"nice":false},"axis":null},"y":{"field":"y","type":"quantitative","scale":{"domain":[-0.005,0.7],"nice":false,"zero":false},"axis":{"values":[0,0.1,0.2,0.3,0.4,0.5,0.6,0.7],"format":".1f","title":"Enrichment Score (ES)"}}}},
     {"data":{"name":"stats"},"transform":[{"filter":"datum.p=='B4'"}],"encoding":{"y":{"field":"r","type":"quantitative","scale":{"domain":[0.42,6.87],"reverse":true},"axis":null}},
      "layer":[
       {"mark":{"type":"rule","color":"#b3cde6","yOffset":9},"encoding":{"x":{"datum":9900,"axis":null},"x2":{"datum":16800}}},
       {"transform":[{"filter":"datum.r==1"}],"mark":{"type":"rule","color":"#b3cde6","yOffset":-10},"encoding":{"x":{"datum":9900,"axis":null},"x2":{"datum":16800}}},
       {"mark":{"type":"text","align":"left","fontWeight":"bold","font":"Lato","fontSize":12.5,"color":"#222"},"encoding":{"x":{"datum":10100,"axis":null},"text":{"field":"k"}}},
       {"mark":{"type":"text","align":"right","font":"Lato","fontSize":12.5,"color":"#444"},"encoding":{"x":{"datum":16700,"axis":null},"text":{"field":"v"}}}
      ]}
    ],
    "resolve":{"scale":{"y":"independent"}}},
   {"width":235,"height":42,"view":{"stroke":null},"data":{"name":"hB4"},"mark":{"type":"rule","color":"#000","opacity":0.9,"strokeWidth":1.1},"encoding":{"x":{"field":"x","type":"quantitative","scale":{"domain":[0,16800],"nice":false},"axis":{"values":[0,5000,10000,15000],"format":"d","title":"Rank in Ordered Dataset"}}}}
  ]},
  {"spacing":5,"bounds":"flush","vconcat":[
   {"width":235,"height":120,"title":{"text":"HALLMARK IL6 JAK STAT3 SIGNALING"},
    "layer":[
     {"data":{"name":"cB5"},"mark":{"type":"line","color":"#c0443e","strokeWidth":1.4},"encoding":{"x":{"field":"x","type":"quantitative","scale":{"domain":[0,16800],"nice":false},"axis":null},"y":{"field":"y","type":"quantitative","scale":{"domain":[-0.005,0.65],"nice":false,"zero":false},"axis":{"values":[0,0.1,0.2,0.3,0.4,0.5,0.6],"format":".1f","title":"Enrichment Score (ES)"}}}},
     {"data":{"name":"stats"},"transform":[{"filter":"datum.p=='B5'"}],"encoding":{"y":{"field":"r","type":"quantitative","scale":{"domain":[0.42,6.87],"reverse":true},"axis":null}},
      "layer":[
       {"mark":{"type":"rule","color":"#b3cde6","yOffset":9},"encoding":{"x":{"datum":9900,"axis":null},"x2":{"datum":16800}}},
       {"transform":[{"filter":"datum.r==1"}],"mark":{"type":"rule","color":"#b3cde6","yOffset":-10},"encoding":{"x":{"datum":9900,"axis":null},"x2":{"datum":16800}}},
       {"mark":{"type":"text","align":"left","fontWeight":"bold","font":"Lato","fontSize":12.5,"color":"#222"},"encoding":{"x":{"datum":10100,"axis":null},"text":{"field":"k"}}},
       {"mark":{"type":"text","align":"right","font":"Lato","fontSize":12.5,"color":"#444"},"encoding":{"x":{"datum":16700,"axis":null},"text":{"field":"v"}}}
      ]}
    ],
    "resolve":{"scale":{"y":"independent"}}},
   {"width":235,"height":42,"view":{"stroke":null},"data":{"name":"hB5"},"mark":{"type":"rule","color":"#000","opacity":0.9,"strokeWidth":1.1},"encoding":{"x":{"field":"x","type":"quantitative","scale":{"domain":[0,16800],"nice":false},"axis":{"values":[0,5000,10000,15000],"format":"d","title":"Rank in Ordered Dataset"}}}}
  ]},
  {"spacing":5,"bounds":"flush","vconcat":[
   {"width":235,"height":120,"title":{"text":"HALLMARK TNFa SIGNALING VIA NFkB"},
    "layer":[
     {"data":{"name":"cB6"},"mark":{"type":"line","color":"#c0443e","strokeWidth":1.4},"encoding":{"x":{"field":"x","type":"quantitative","scale":{"domain":[0,16800],"nice":false},"axis":null},"y":{"field":"y","type":"quantitative","scale":{"domain":[-0.005,0.65],"nice":false,"zero":false},"axis":{"values":[0,0.1,0.2,0.3,0.4,0.5,0.6],"format":".1f","title":"Enrichment Score (ES)"}}}},
     {"data":{"name":"stats"},"transform":[{"filter":"datum.p=='B6'"}],"encoding":{"y":{"field":"r","type":"quantitative","scale":{"domain":[0.42,6.87],"reverse":true},"axis":null}},
      "layer":[
       {"mark":{"type":"rule","color":"#b3cde6","yOffset":9},"encoding":{"x":{"datum":9900,"axis":null},"x2":{"datum":16800}}},
       {"transform":[{"filter":"datum.r==1"}],"mark":{"type":"rule","color":"#b3cde6","yOffset":-10},"encoding":{"x":{"datum":9900,"axis":null},"x2":{"datum":16800}}},
       {"mark":{"type":"text","align":"left","fontWeight":"bold","font":"Lato","fontSize":12.5,"color":"#222"},"encoding":{"x":{"datum":10100,"axis":null},"text":{"field":"k"}}},
       {"mark":{"type":"text","align":"right","font":"Lato","fontSize":12.5,"color":"#444"},"encoding":{"x":{"datum":16700,"axis":null},"text":{"field":"v"}}}
      ]}
    ],
    "resolve":{"scale":{"y":"independent"}}},
   {"width":235,"height":42,"view":{"stroke":null},"data":{"name":"hB6"},"mark":{"type":"rule","color":"#000","opacity":0.9,"strokeWidth":1.1},"encoding":{"x":{"field":"x","type":"quantitative","scale":{"domain":[0,16800],"nice":false},"axis":{"values":[0,5000,10000,15000],"format":"d","title":"Rank in Ordered Dataset"}}}}
  ]},
  {"spacing":5,"bounds":"flush","vconcat":[
   {"width":235,"height":120,"title":{"text":"HALLMARK COMPLEMENT"},
    "layer":[
     {"layer":[
      {"data":{"name":"cB7"},"mark":{"type":"rule","color":"#cccccc","strokeWidth":0.8},"encoding":{"y":{"datum":0,"type":"quantitative","scale":{"domain":[-0.03,0.62],"nice":false,"zero":false},"axis":{"values":[0,0.1,0.2,0.3,0.4,0.5,0.6],"format":".1f","title":"Enrichment Score (ES)"}}}},
      {"data":{"name":"cB7"},"mark":{"type":"line","color":"#c0443e","strokeWidth":1.4},"encoding":{"x":{"field":"x","type":"quantitative","scale":{"domain":[0,16800],"nice":false},"axis":null},"y":{"field":"y","type":"quantitative","scale":{"domain":[-0.03,0.62],"nice":false,"zero":false},"axis":{"values":[0,0.1,0.2,0.3,0.4,0.5,0.6],"format":".1f","title":"Enrichment Score (ES)"}}}}
     ]},
     {"data":{"name":"stats"},"transform":[{"filter":"datum.p=='B7'"}],"encoding":{"y":{"field":"r","type":"quantitative","scale":{"domain":[0.42,6.87],"reverse":true},"axis":null}},
      "layer":[
       {"mark":{"type":"rule","color":"#b3cde6","yOffset":9},"encoding":{"x":{"datum":9900,"axis":null},"x2":{"datum":16800}}},
       {"transform":[{"filter":"datum.r==1"}],"mark":{"type":"rule","color":"#b3cde6","yOffset":-10},"encoding":{"x":{"datum":9900,"axis":null},"x2":{"datum":16800}}},
       {"mark":{"type":"text","align":"left","fontWeight":"bold","font":"Lato","fontSize":12.5,"color":"#222"},"encoding":{"x":{"datum":10100,"axis":null},"text":{"field":"k"}}},
       {"mark":{"type":"text","align":"right","font":"Lato","fontSize":12.5,"color":"#444"},"encoding":{"x":{"datum":16700,"axis":null},"text":{"field":"v"}}}
      ]}
    ],
    "resolve":{"scale":{"y":"independent"}}},
   {"width":235,"height":42,"view":{"stroke":null},"data":{"name":"hB7"},"mark":{"type":"rule","color":"#000","opacity":0.9,"strokeWidth":1.1},"encoding":{"x":{"field":"x","type":"quantitative","scale":{"domain":[0,16800],"nice":false},"axis":{"values":[0,5000,10000,15000],"format":"d","title":"Rank in Ordered Dataset"}}}}
  ]},
  {"spacing":5,"bounds":"flush","vconcat":[
   {"width":235,"height":120,"title":{"text":"HALLMARK IL2 STAT5 SIGNALING"},
    "layer":[
     {"layer":[
      {"data":{"name":"cB8"},"mark":{"type":"rule","color":"#cccccc","strokeWidth":0.8},"encoding":{"y":{"datum":0,"type":"quantitative","scale":{"domain":[-0.035,0.53],"nice":false,"zero":false},"axis":{"values":[0,0.1,0.2,0.3,0.4,0.5],"format":".1f","title":"Enrichment Score (ES)"}}}},
      {"data":{"name":"cB8"},"mark":{"type":"line","color":"#c0443e","strokeWidth":1.4},"encoding":{"x":{"field":"x","type":"quantitative","scale":{"domain":[0,16800],"nice":false},"axis":null},"y":{"field":"y","type":"quantitative","scale":{"domain":[-0.035,0.53],"nice":false,"zero":false},"axis":{"values":[0,0.1,0.2,0.3,0.4,0.5],"format":".1f","title":"Enrichment Score (ES)"}}}}
     ]},
     {"data":{"name":"stats"},"transform":[{"filter":"datum.p=='B8'"}],"encoding":{"y":{"field":"r","type":"quantitative","scale":{"domain":[0.42,6.87],"reverse":true},"axis":null}},
      "layer":[
       {"mark":{"type":"rule","color":"#b3cde6","yOffset":9},"encoding":{"x":{"datum":9900,"axis":null},"x2":{"datum":16800}}},
       {"transform":[{"filter":"datum.r==1"}],"mark":{"type":"rule","color":"#b3cde6","yOffset":-10},"encoding":{"x":{"datum":9900,"axis":null},"x2":{"datum":16800}}},
       {"mark":{"type":"text","align":"left","fontWeight":"bold","font":"Lato","fontSize":12.5,"color":"#222"},"encoding":{"x":{"datum":10100,"axis":null},"text":{"field":"k"}}},
       {"mark":{"type":"text","align":"right","font":"Lato","fontSize":12.5,"color":"#444"},"encoding":{"x":{"datum":16700,"axis":null},"text":{"field":"v"}}}
      ]}
    ],
    "resolve":{"scale":{"y":"independent"}}},
   {"width":235,"height":42,"view":{"stroke":null},"data":{"name":"hB8"},"mark":{"type":"rule","color":"#000","opacity":0.9,"strokeWidth":1.1},"encoding":{"x":{"field":"x","type":"quantitative","scale":{"domain":[0,16800],"nice":false},"axis":{"values":[0,5000,10000,15000],"format":"d","title":"Rank in Ordered Dataset"}}}}
  ]}
 ]}
],
"config":{
 "font":"Liberation Sans",
 "view":{"stroke":"#b0b0b0","strokeWidth":1},
 "axis":{"grid":false,"labelFontSize":5,"labelColor":"#777","tickColor":"#999","domainColor":"#999","tickSize":3,"titleFontSize":13,"titleFontWeight":"normal","titleColor":"#555","titleFont":"Liberation Sans","labelFont":"Liberation Sans"},
 "axisY":{"labelAngle":-90,"labelPadding":4,"titlePadding":9},
 "axisX":{"labelPadding":3,"titlePadding":7},
 "title":{"fontSize":12.4,"fontWeight":"normal","color":"#222","offset":6,"anchor":"middle","font":"Liberation Sans"}
}
}
